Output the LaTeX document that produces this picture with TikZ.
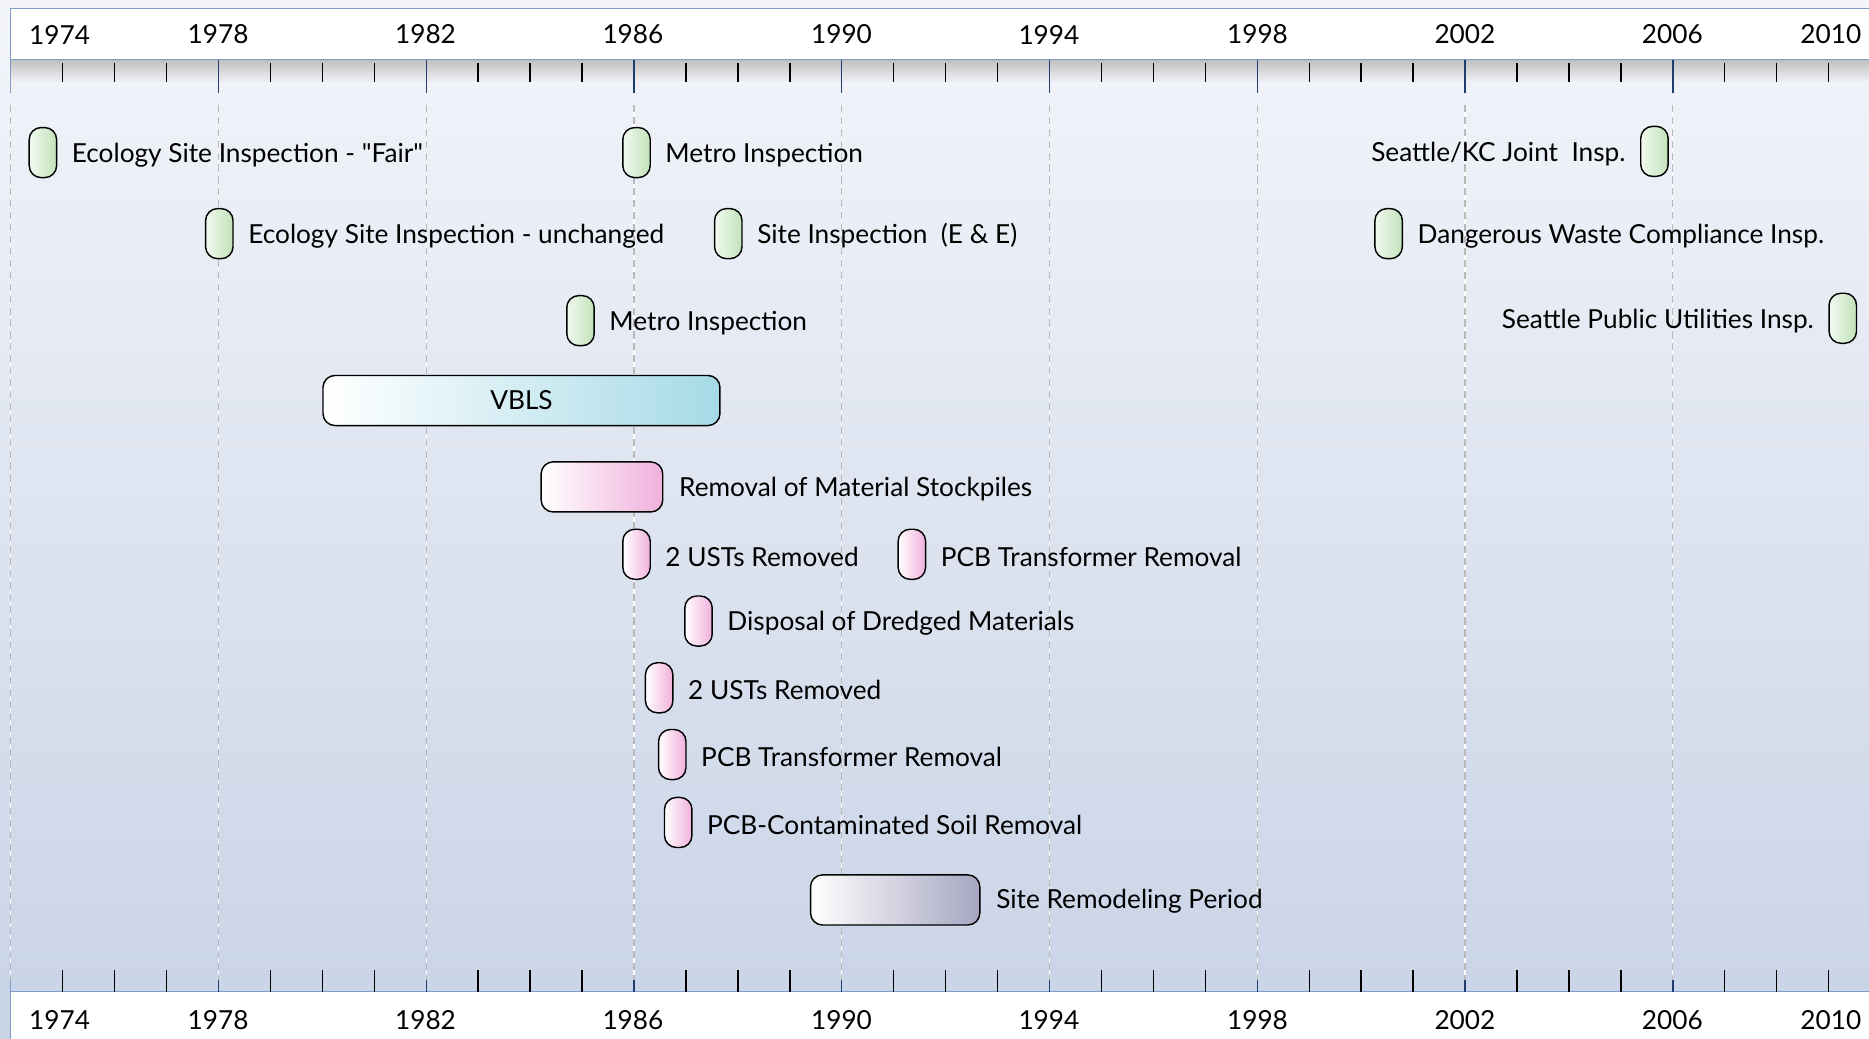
\documentclass[tikz,border=0pt]{standalone}
\usepackage{fontspec}
\setmainfont{Lato}[Ligatures=TeXOff]
\usetikzlibrary{positioning}
\definecolor{bgtop}{HTML}{F3F5FA}
\definecolor{bgbot}{HTML}{C8D3E6}
\definecolor{axisblue}{HTML}{7E9DCB}
\definecolor{tickblue}{HTML}{1F3D6E}
\definecolor{inspR}{HTML}{C0E2B9}
\definecolor{inspL}{HTML}{F2FAF0}
\definecolor{workR}{HTML}{F0B0DC}
\definecolor{vblsR}{HTML}{A6DAE7}
\definecolor{remodR}{HTML}{A6A6C2}

\begin{document}
\begin{tikzpicture}[x=1pt,y=-1pt,
  pill/.style={draw,line width=1.2pt,rounded corners=10pt,minimum width=23pt,
               minimum height=42pt,inner sep=0pt},
  insp/.style={pill,left color=inspL,right color=inspR},
  work/.style={pill,left color=white,right color=workR},
  lbl/.style={font=\fontsize{22}{26}\selectfont,inner sep=0pt},
  yr/.style={font=\fontsize{22}{26}\selectfont,inner sep=0pt}]
\useasboundingbox (0,0) rectangle (1568,871);
\shade[top color=bgtop,bottom color=bgbot] (0,0) rectangle (1568,871);
% header and footer bands
\fill[white] (9,7) rectangle (1590,50);
\shade[top color=gray!50,bottom color=bgtop] (9,50) rectangle (1590,70);
\fill[white] (9,832) rectangle (1590,880);
\draw[axisblue,line width=1.2pt] (1590,7) -- (9,7) -- (9,78);
\draw[axisblue,line width=1.2pt] (9,50) -- (1590,50);
\draw[axisblue,line width=1.2pt] (9,822) -- (9,880) (9,832) -- (1590,832);
% grid lines
\foreach \k in {0,...,8}{
  \draw[white,line width=1pt] (9+\k*174.3,88) -- (9+\k*174.3,822);
  \draw[gray!55,line width=1pt,dash pattern=on 6pt off 4pt] (9+\k*174.3,88) -- (9+\k*174.3,822);
}
% ticks
\foreach \i in {1,...,36}{
  \pgfmathtruncatemacro\r{mod(\i,4)}
  \ifnum\r=0
    \draw[tickblue,line width=1.2pt] (9+\i*43.575,50) -- (9+\i*43.575,78);
    \draw[tickblue,line width=1.2pt] (9+\i*43.575,822) -- (9+\i*43.575,832);
  \else
    \draw[line width=1.2pt] (9+\i*43.575,53) -- (9+\i*43.575,69);
    \draw[line width=1.2pt] (9+\i*43.575,814) -- (9+\i*43.575,832);
  \fi
}
% years
\foreach \y/\p in {1974/50,1978/183,1982/357,1986/531,1990/706,1994/880,1998/1055,2002/1229,2006/1403,2010/1536}{
  \node[yr] (t\y) at (\p,29) {\y};
  \node[yr] (b\y) at (\p,856) {\y};
}
% inspections
\foreach \n/\x/\y/\t in {1/36/128/{Ecology Site Inspection - "Fair"},
    2/184/196/{Ecology Site Inspection - unchanged},
    3/534/128/{Metro Inspection},
    4/611/196/{Site Inspection\ \ (E \& E)},
    5/487/269/{Metro Inspection},
    6/1165/196/{Dangerous Waste Compliance Insp.}}{
  \node[insp] (g\n) at (\x,\y) {};
  \node[lbl,right=12pt of g\n,yshift=-2pt] (gl\n) {\t};
}
\node[insp] (g7) at (1388,127) {};
\node[lbl,left=12pt of g7,yshift=-2pt] (gl7) {Seattle/KC Joint\ \ Insp.};
\node[insp] (g8) at (1546,267) {};
\node[lbl,left=12pt of g8,yshift=-2pt] (gl8) {Seattle Public Utilities Insp.};
% periods
\node[pill,left color=white,right color=vblsR,minimum width=333pt,lbl] (vbls) at (437.5,336) {VBLS};
\node[pill,left color=white,right color=workR,minimum width=102pt] (stock) at (505,408.5) {};
\node[lbl,right=13pt of stock,yshift=-2pt] (stockl) {Removal of Material Stockpiles};
\node[pill,left color=white,right color=remodR,minimum width=142pt] (remod) at (751,755) {};
\node[lbl,right=13pt of remod,yshift=-1pt] (remodl) {Site Remodeling Period};
% removals
\foreach \n/\x/\y/\t in {1/534/465/{2 USTs Removed},
    2/765/465/{PCB Transformer Removal},
    3/586/521/{Disposal of Dredged Materials},
    4/553/577/{2 USTs Removed},
    5/564/633/{PCB Transformer Removal},
    6/569/690/{PCB-Contaminated Soil Removal}}{
  \node[work] (w\n) at (\x,\y) {};
  \node[lbl,right=12pt of w\n,yshift=-2pt] (wl\n) {\t};
}
\end{tikzpicture}
\end{document}
